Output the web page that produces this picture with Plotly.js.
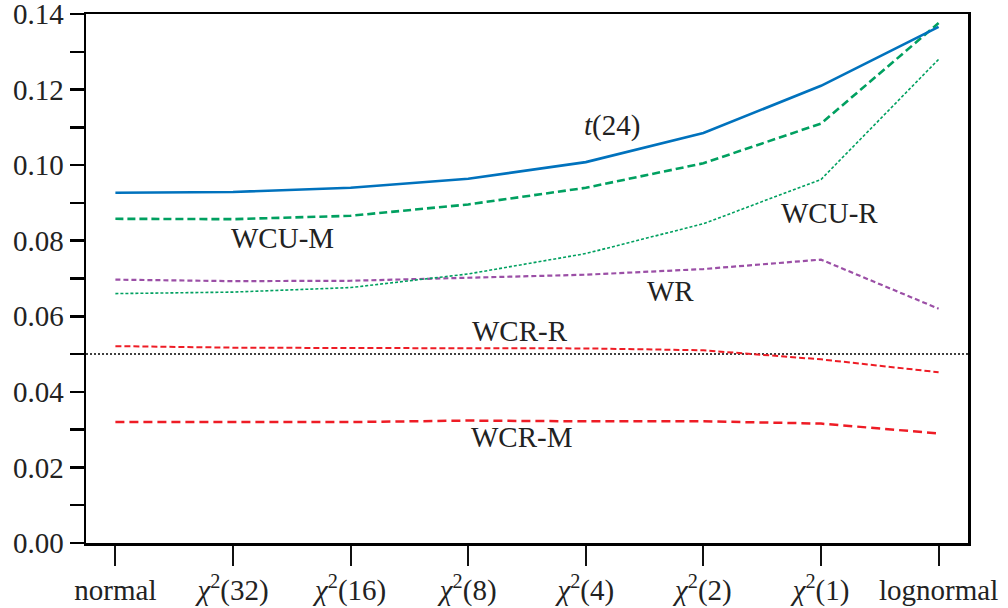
<!DOCTYPE html>
<html>
<head>
<meta charset="utf-8">
<script src="https://cdn.plot.ly/plotly-3.0.1.min.js"></script>
<style>html,body{margin:0;padding:0;background:#fff}#chart{width:1008px;height:608px}</style>
</head>
<body>
<div id="chart"></div>
<script>
const categories = ["normal", "<i>χ</i><sup>2</sup>(32)", "<i>χ</i><sup>2</sup>(16)", "<i>χ</i><sup>2</sup>(8)", "<i>χ</i><sup>2</sup>(4)", "<i>χ</i><sup>2</sup>(2)", "<i>χ</i><sup>2</sup>(1)", "lognormal"];
const t24   = [0.0927, 0.0929, 0.0940, 0.0964, 0.1008, 0.1085, 0.1210, 0.1366];
const wcuM  = [0.0858, 0.0857, 0.0866, 0.0896, 0.0940, 0.1005, 0.1110, 0.1376];
const wcuR  = [0.0660, 0.0664, 0.0676, 0.0712, 0.0766, 0.0845, 0.0962, 0.1280];
const wr    = [0.0697, 0.0693, 0.0694, 0.0702, 0.0710, 0.0725, 0.0750, 0.0620];
const wcrR  = [0.0521, 0.0517, 0.0516, 0.0516, 0.0515, 0.0510, 0.0486, 0.0452];
const wcrM  = [0.0320, 0.0320, 0.0320, 0.0324, 0.0322, 0.0322, 0.0316, 0.0290];
const nominal = 0.05;
const yTickVals = [0, 0.01, 0.02, 0.03, 0.04, 0.05, 0.06, 0.07, 0.08, 0.09, 0.10, 0.11, 0.12, 0.13, 0.14];
const yTickText = ["0.00", " ", "0.02", " ", "0.04", " ", "0.06", " ", "0.08", " ", "0.10", " ", "0.12", " ", "0.14"];
const labels = [
  {text: "<i>t</i>(24)", x: 4.22, y: 0.1104},
  {text: "WCU-M", x: 1.42, y: 0.0808},
  {text: "WCU-R", x: 6.07, y: 0.0874},
  {text: "WR", x: 4.72, y: 0.0668},
  {text: "WCR-R", x: 3.44, y: 0.0560},
  {text: "WCR-M", x: 3.46, y: 0.0280}
];

const idx = categories.map((_, i) => i);
const font = "Liberation Serif";

const traces = [
  {y: wcrM, color: "#EE1C25", width: 2.5, dash: "9px,5px"},
  {y: wcrR, color: "#EE1C25", width: 2, dash: "6px,3px"},
  {y: wr, color: "#9B4FA6", width: 2.2, dash: "5px,3px"},
  {y: wcuR, color: "#00A060", width: 1.6, dash: "3px,2px"},
  {y: wcuM, color: "#00A060", width: 2.6, dash: "8px,4px"},
  {y: t24, color: "#0072BD", width: 2.6, dash: "solid"}
].map(s => ({
  x: idx, y: s.y, type: "scatter", mode: "lines",
  line: {color: s.color, width: s.width, dash: s.dash},
  hoverinfo: "skip", showlegend: false
}));

traces.unshift({
  x: [-0.25, 7.25], y: [nominal, nominal], type: "scatter", mode: "lines",
  line: {color: "#000", width: 1.6, dash: "2px,2px"}, hoverinfo: "skip", showlegend: false
});

const layout = {
  width: 1008, height: 608,
  margin: {l: 86, r: 40, t: 14, b: 65},
  paper_bgcolor: "#fff", plot_bgcolor: "#fff",
  font: {family: font, size: 29, color: "#222"},
  showlegend: false,
  xaxis: {
    range: [-0.25, 7.25], tickmode: "array", tickvals: idx, ticktext: categories,
    ticks: "outside", ticklen: 20, tickwidth: 2, tickcolor: "#111", ticklabeloverflow: "allow",
    showgrid: false, zeroline: false, showline: true, linecolor: "#000", linewidth: 2.5,
    mirror: true, tickfont: {family: font, size: 29, color: "#222"}
  },
  yaxis: {
    range: [0, 0.14], tickmode: "array", tickvals: yTickVals, ticktext: yTickText,
    ticks: "outside", ticklen: 14, tickwidth: 2.5, tickcolor: "#000", ticklabeloverflow: "allow",
    showgrid: false, zeroline: false, showline: true, linecolor: "#000", linewidth: 2.5,
    mirror: true, tickfont: {family: font, size: 29, color: "#222"}
  },
  annotations: labels.map(a => ({
    text: a.text, x: a.x, y: a.y, xref: "x", yref: "y", showarrow: false,
    font: {family: font, size: 29, color: "#222"}
  }))
};

Plotly.newPlot("chart", traces, layout, {staticPlot: true, displayModeBar: false});
</script>
</body>
</html>
